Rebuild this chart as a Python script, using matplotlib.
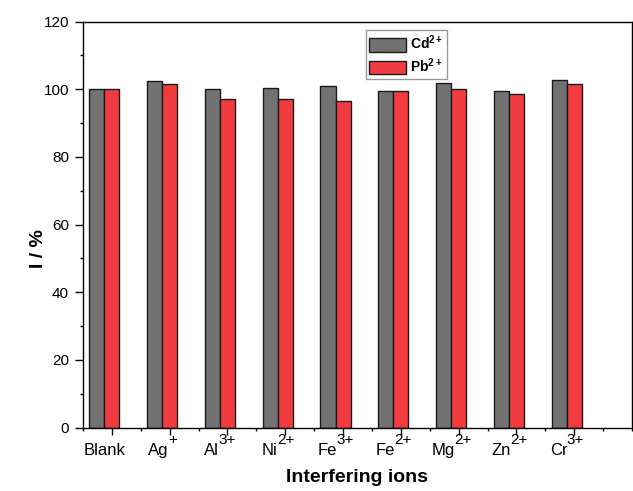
import matplotlib
matplotlib.use('Agg')
import matplotlib.pyplot as plt
import matplotlib.transforms as mtransforms
import numpy as np
from matplotlib.ticker import MultipleLocator

ion_names = ['Blank', 'Ag', 'Al', 'Ni', 'Fe', 'Fe', 'Mg', 'Zn', 'Cr']
ion_charges = ['', '+', '3+', '2+', '3+', '2+', '2+', '2+', '3+']
cd_signal = [100.0, 102.5, 100.1, 100.3, 100.9, 99.6, 101.8, 99.6, 102.8]
pb_signal = [100.0, 101.5, 97.1, 97.1, 96.5, 99.6, 100.1, 98.5, 101.6]

plt.rcParams['font.family'] = 'Liberation Sans'
plt.rcParams['mathtext.fontset'] = 'custom'
plt.rcParams['mathtext.rm'] = 'Liberation Sans'
plt.rcParams['mathtext.bf'] = 'Liberation Sans:bold'
plt.rcParams['mathtext.default'] = 'regular'

fig = plt.figure(figsize=(6.33, 4.91), dpi=100)
ax = fig.add_axes([0.131, 0.129, 0.8675, 0.827])

x = np.arange(1, len(ion_names) + 1)
w = 0.26
ax.bar(x - w, cd_signal, w, color='#727272', edgecolor='#1a1a1a',
       linewidth=1.0, label=r'Cd$^{\mathbf{2+}}$')
ax.bar(x, pb_signal, w, color='#f03c40', edgecolor='#1a1a1a',
       linewidth=1.0, label=r'Pb$^{\mathbf{2+}}$')

ax.set_xlim(0.5, 10)
ax.set_ylim(0, 120)
ax.set_xticks(x)
ax.xaxis.set_minor_locator(MultipleLocator(0.5))
ax.yaxis.set_major_locator(MultipleLocator(20))
ax.yaxis.set_minor_locator(MultipleLocator(10))
ax.tick_params(axis='y', which='major', direction='out', length=6, width=1,
               labelsize=11, pad=4)
ax.tick_params(axis='x', which='major', direction='out', length=5, width=1,
               labelbottom=False)
ax.tick_params(axis='both', which='minor', direction='out', length=2.5, width=1)
for sp in ax.spines.values():
    sp.set_linewidth(1.0)

ax.set_xlabel('Interfering ions', fontsize=14, fontweight='bold', va='top')
ax.xaxis.set_label_coords(0.5, -0.101)
ax.set_ylabel('I / %', fontsize=14, fontweight='bold')
ax.yaxis.set_label_coords(-0.066, 0.44)

# x labels: ion symbol with a near full-size charge superscript
fig.canvas.draw()
renderer = fig.canvas.get_renderer()
base_tr = ax.get_xaxis_transform()


def px_shift(dx, dy):
    return base_tr + mtransforms.ScaledTranslation(dx / fig.dpi, dy / fig.dpi,
                                                   fig.dpi_scale_trans)


for xi, name, charge in zip(x, ion_names, ion_charges):
    tb = ax.text(xi, 0, name, fontsize=12, ha='left', va='baseline',
                 transform=base_tr, clip_on=False)
    ts = ax.text(xi, 0, charge, fontsize=11, ha='left', va='baseline',
                 transform=base_tr, clip_on=False)
    wb = tb.get_window_extent(renderer).width
    ws = ts.get_window_extent(renderer).width if charge else 0
    left = -(wb + ws) / 2 - 7
    tb.set_transform(px_shift(left, -27))
    ts.set_transform(px_shift(left + wb - 0.5, -16.5))

leg = ax.legend(loc='upper left', bbox_to_anchor=(366 / 633, 460.7 / 491),
                bbox_transform=fig.transFigure, fancybox=False,
                edgecolor='#999999', framealpha=1, handlelength=2.6,
                handleheight=1.15, borderpad=0.25, labelspacing=0.3,
                handletextpad=0.35, borderaxespad=0,
                prop={'weight': 'bold', 'size': 10})
leg.get_frame().set_linewidth(1.0)

fig.savefig('out.png', dpi=100)
